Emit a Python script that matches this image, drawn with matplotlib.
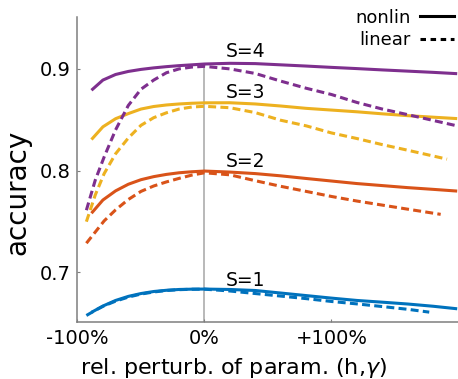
import matplotlib
matplotlib.use("Agg")
import matplotlib.pyplot as plt
from matplotlib.lines import Line2D
import numpy as np

## data (x in % perturbation)
x_nonlin = [-89, -80, -70, -60, -50, -40, -30, -20, -10, 0,
            20, 40, 60, 80, 100, 120, 140, 160, 180, 199]
x_lin = [-93, -86, -79, -70, -60, -50, -40, -30, -20, -10, 0,
         20, 40, 60, 80, 100, 120, 140, 160]
x_lin_end = [177, 186, 191, 197]  # last point of the dashed S=1..4

nonlin_S1 = [0.6605, 0.6667, 0.6722, 0.6762, 0.6790, 0.6810, 0.6822, 0.6830, 0.6833, 0.6834,
             0.6830, 0.6820, 0.6795, 0.6770, 0.6745, 0.6722, 0.6705, 0.6687, 0.6665, 0.6640]
nonlin_S2 = [0.7580, 0.7710, 0.7800, 0.7865, 0.7910, 0.7940, 0.7962, 0.7978, 0.7988, 0.7995,
             0.7985, 0.7970, 0.7948, 0.7922, 0.7897, 0.7872, 0.7852, 0.7832, 0.7815, 0.7798]
nonlin_S3 = [0.8305, 0.8430, 0.8510, 0.8560, 0.8605, 0.8630, 0.8645, 0.8655, 0.8662, 0.8666,
             0.8667, 0.8655, 0.8635, 0.8612, 0.8595, 0.8578, 0.8558, 0.8540, 0.8525, 0.8511]
nonlin_S4 = [0.8790, 0.8890, 0.8945, 0.8975, 0.8995, 0.9010, 0.9022, 0.9032, 0.9040, 0.9048,
             0.9055, 0.9052, 0.9040, 0.9028, 0.9015, 0.9003, 0.8990, 0.8978, 0.8966, 0.8953]

lin_S1 = [0.6574, 0.6625, 0.6670, 0.6715, 0.6755, 0.6785, 0.6805, 0.6820, 0.6828, 0.6832, 0.6833,
          0.6815, 0.6790, 0.6765, 0.6740, 0.6712, 0.6688, 0.6662, 0.6635, 0.6607]
lin_S2 = [0.7285, 0.7395, 0.7505, 0.7613, 0.7715, 0.7795, 0.7848, 0.7888, 0.7923, 0.7955, 0.7978,
          0.7958, 0.7900, 0.7845, 0.7795, 0.7745, 0.7700, 0.7660, 0.7620, 0.7569]
lin_S3 = [0.7497, 0.7760, 0.7970, 0.8165, 0.8320, 0.8445, 0.8520, 0.8568, 0.8605, 0.8625, 0.8632,
          0.8618, 0.8570, 0.8495, 0.8440, 0.8370, 0.8315, 0.8255, 0.8200, 0.8112]
lin_S4 = [0.7610, 0.7906, 0.8134, 0.8400, 0.8640, 0.8800, 0.8890, 0.8962, 0.9000, 0.9018, 0.9025,
          0.9000, 0.8955, 0.8880, 0.8810, 0.8748, 0.8670, 0.8605, 0.8550, 0.8445]

labels = ["S=1", "S=2", "S=3", "S=4"]
label_y = [0.686, 0.8036, 0.871, 0.9113]
colors = ["#0072BD", "#D95319", "#EDB120", "#7E2F8E"]

nonlin = [nonlin_S1, nonlin_S2, nonlin_S3, nonlin_S4]
lin = [lin_S1, lin_S2, lin_S3, lin_S4]

fig = plt.figure(figsize=(4.58, 3.79), dpi=100)
ax = fig.add_axes([0.1692, 0.1504, 0.8318, 0.8046])

dash = (0, (2.6, 1.4))
lw = 2.2

# reference line at 0%
ax.plot([0, 0], [0.65, nonlin_S4[9]], color="#a6a6a6", lw=1.1, zorder=1)

for c, yy in zip(colors, nonlin):
    ax.plot(x_nonlin, yy, color=c, lw=lw, solid_capstyle="butt", zorder=2)
for c, yy, xe in zip(colors, lin, x_lin_end):
    ax.plot(x_lin + [xe], yy, color=c, lw=lw, linestyle=dash, zorder=3)

for s, yl in zip(labels, label_y):
    ax.text(17, yl, s, fontsize=13.5, va="baseline", ha="left")

ax.set_xlim(-100, 200)
ax.set_ylim(0.651, 0.951)
ax.set_xticks([-100, 0, 100])
ax.set_xticklabels(["-100%", "0%", "+100%"])
ax.set_yticks([0.7, 0.8, 0.9])
ax.set_yticklabels(["0.7", "0.8", "0.9"])

for sp in ["top", "right"]:
    ax.spines[sp].set_visible(False)
for sp in ["left", "bottom"]:
    ax.spines[sp].set_color("#7f7f7f")
    ax.spines[sp].set_linewidth(1.1)
ax.tick_params(direction="in", length=2.5, width=0.8, color="#7f7f7f",
               labelsize=14, pad=5)

ax.set_ylabel("accuracy", fontsize=20, labelpad=6)
ax.yaxis.label.set_y(0.426)
ax.set_xlabel(r"rel. perturb. of param. (h,$\gamma$)", fontsize=16, labelpad=6)
ax.xaxis.label.set_x(0.409)

handles = [Line2D([], [], color="black", lw=lw),
           Line2D([], [], color="black", lw=lw, linestyle=(0, (1.8, 1.5)))]
fig.legend(handles, ["nonlin", "linear"], loc="upper right",
           bbox_to_anchor=(1.0, 0.987), frameon=False, markerfirst=False,
           fontsize=13, handlelength=1.9, handletextpad=0.5,
           labelspacing=0.25, borderpad=0.2, borderaxespad=0)

fig.savefig("out.png", dpi=100)
